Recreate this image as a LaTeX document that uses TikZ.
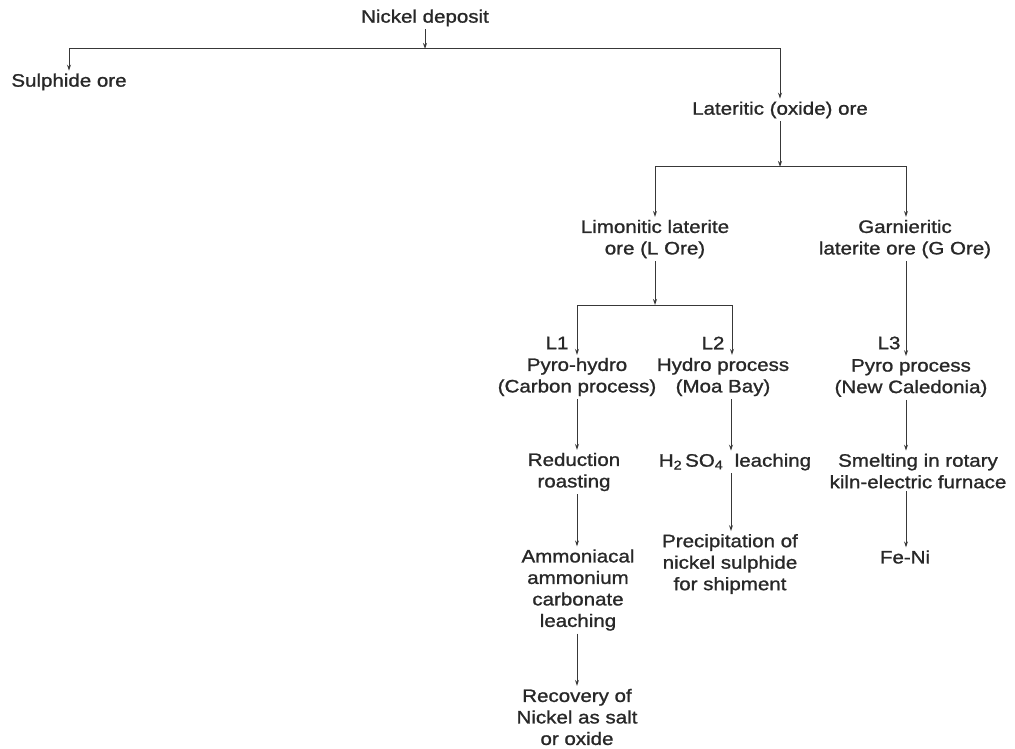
\documentclass[tikz,border=0pt]{standalone}
\usepackage{fontspec}
\setmainfont{Liberation Sans}[FakeStretch=1.14,FakeBold=1.2]
\usetikzlibrary{arrows.meta,calc}
\definecolor{ink}{HTML}{282828}
\definecolor{wire}{HTML}{383838}
\begin{document}
\begin{tikzpicture}[x=1pt,y=-1pt,
  txt/.style={inner sep=3pt,outer sep=0pt,align=center,text=ink,
    font=\fontsize{18}{21.5}\selectfont},
  tag/.style={inner sep=0pt,text=ink,font=\fontsize{18}{21.5}\selectfont},
  wireline/.style={draw=wire,line width=1pt},
  arr/.style={wireline,-{Stealth[length=6pt,width=4pt]}}]
\useasboundingbox (0,0) rectangle (1015,749);
% nodes
\node[txt] (nd) at (425,18) {Nickel deposit};
\node[txt] (sul) at (69,82) {Sulphide ore};
\node[txt] (lat) at (780,110) {Lateritic (oxide) ore};
\node[txt] (lim) at (655,239) {Limonitic laterite\\ore (L Ore)};
\node[txt] (gar) at (905,239) {Garnieritic\\laterite ore (G Ore)};
\node[tag] (l1) at (557,343) {L1};
\node[tag] (l2) at (713,343) {L2};
\node[tag] (l3) at (889,343) {L3};
\node[txt] (ph) at (577,377) {Pyro-hydro\\(Carbon process)};
\node[txt] (hy) at (723,377) {Hydro process\\(Moa Bay)};
\node[txt] (py) at (911,378) {Pyro process\\(New Caledonia)};
\node[txt] (red) at (574,472) {Reduction\\roasting};
\node[txt] (h2) at (735,462) {H\textsubscript{2}\,SO\textsubscript{4}\ \ leaching};
\node[txt] (sm) at (918,471) {Smelting in rotary\\kiln-electric furnace};
\node[txt] (prec) at (730,564) {Precipitation of\\nickel sulphide\\for shipment};
\node[txt] (amm) at (578,590) {Ammoniacal\\ammonium\\carbonate\\leaching};
\node[txt] (feni) at (905,557) {Fe-Ni};
\node[txt] (rec) at (577,717) {Recovery of\\Nickel as salt\\or oxide};
% junctions and columns
\coordinate (b1) at (425,49);
\coordinate (b2) at (780,167);
\coordinate (b3) at (655,305);
\coordinate (b3r) at (732,305);
\coordinate (cA) at (577,0);
\coordinate (cB) at (731,0);
\coordinate (cC) at (906,0);
% connectors
\draw[arr] (nd) -- (b1);
\draw[arr] (b1) -| (sul);
\draw[arr] (b1) -| (lat);
\draw[arr] (lat) -- (b2);
\draw[arr] (b2) -| (lim);
\draw[arr] (b2) -| (cC |- gar.north);
\draw[arr] (lim) -- (b3);
\draw[arr] (b3) -| (cA |- ph.north);
\draw[wireline] (b3) -- (b3r);
\draw[arr] (b3r) -- (b3r |- hy.north);
\draw[arr] (cC |- gar.south) -- (cC |- py.north);
\draw[arr] (cA |- ph.south) -- (cA |- red.north);
\draw[arr] (cB |- hy.south) -- (cB |- h2.north);
\draw[arr] (cC |- py.south) -- (cC |- sm.north);
\draw[arr] (cA |- red.south) -- (cA |- amm.north);
\draw[arr] (cB |- h2.south) -- (cB |- prec.north);
\draw[arr] (cC |- sm.south) -- (cC |- feni.north);
\draw[arr] (cA |- amm.south) -- (cA |- rec.north);
\end{tikzpicture}
\end{document}
